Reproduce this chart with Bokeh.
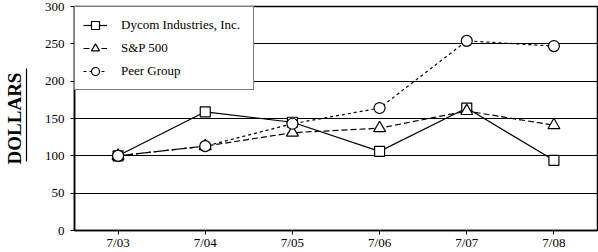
from bokeh.plotting import figure
from bokeh.models import Range1d, FactorRange, FixedTicker, Legend, LegendItem, LinearAxis
from bokeh.embed import file_html
from bokeh.resources import INLINE

categories = ["7/03", "7/04", "7/05", "7/06", "7/07", "7/08"]
dycom = [100, 159, 145, 106, 164, 94]
sp500 = [100, 113, 131, 137, 160, 141]
peer = [100, 113, 143, 164, 254, 247]
y_ticks = [0, 50, 100, 150, 200, 250, 300]
series_names = ["Dycom Industries, Inc.", "S&P 500", "Peer Group"]
y_title = "DOLLARS"

FONT = "Liberation Serif"

p = figure(width=598, height=252, x_range=FactorRange(*categories), y_range=Range1d(0, 300),
           output_backend="svg", toolbar_location=None,
           min_border_left=0, min_border_right=1, min_border_top=6, min_border_bottom=20)
p.outline_line_color = "black"
p.outline_line_width = 1.5
p.xgrid.visible = False
p.ygrid.ticker = FixedTicker(ticks=y_ticks)
p.ygrid.grid_line_color = "black"
p.ygrid.grid_line_width = 1.2

xax = p.xaxis[0]
yax = p.yaxis[0]
yax.ticker = FixedTicker(ticks=y_ticks)
for ax in (xax, yax):
    ax.major_label_text_font = FONT
    ax.major_label_text_font_size = "13px"
    ax.major_label_text_color = "black"
    ax.axis_line_color = "black"
    ax.axis_line_width = 1.5
    ax.major_tick_line_color = "black"
    ax.major_tick_in = 0
    ax.major_tick_out = 4
    ax.minor_tick_line_color = None
xax.major_label_standoff = 0
yax.major_label_standoff = 6

# spacer axis between tick labels and the title
spacer = LinearAxis(ticker=FixedTicker(ticks=[]), axis_line_color=None,
                    major_tick_line_color=None, minor_tick_line_color=None,
                    major_tick_in=0, major_tick_out=0, major_label_text_font_size="0px",
                    axis_label="\u00a0", axis_label_text_font_size="11px",
                    axis_label_standoff=0)
p.add_layout(spacer, "left")

# title axis: its line, limited by bounds, underlines the title
title_ax = LinearAxis(ticker=FixedTicker(ticks=[]), bounds=(93, 217),
                      axis_line_color="black", axis_line_width=1.2,
                      major_tick_line_color=None, minor_tick_line_color=None,
                      major_tick_in=0, major_tick_out=0, major_label_text_font_size="0px",
                      axis_label=y_title, axis_label_text_font=FONT,
                      axis_label_text_font_style="bold", axis_label_text_font_size="19px",
                      axis_label_text_color="black", axis_label_standoff=2)
p.add_layout(title_ax, "left")

r1l = p.line(categories, dycom, line_color="black", line_width=1.2)
r1m = p.scatter(categories, dycom, marker="square", size=10, fill_color="white",
                line_color="black", line_width=1.2)
r2l = p.line(categories, sp500, line_color="black", line_width=1.2, line_dash="6 3")
r2m = p.scatter(categories, sp500, marker="triangle", size=12, fill_color="white",
                line_color="black", line_width=1.2)
r3l = p.line(categories, peer, line_color="black", line_width=1.2, line_dash="3 3")
r3m = p.scatter(categories, peer, marker="circle", size=11, fill_color="white",
                line_color="black", line_width=1.2)

legend = Legend(items=[
    LegendItem(label=series_names[0], renderers=[r1l, r1m]),
    LegendItem(label=series_names[1], renderers=[r2l, r2m]),
    LegendItem(label=series_names[2], renderers=[r3l, r3m]),
], location="top_left")
legend.margin = 0
legend.padding = 8
legend.spacing = 3
legend.glyph_width = 24
legend.glyph_height = 20
legend.label_height = 20
legend.label_width = 124
legend.label_standoff = 14
legend.label_text_font = FONT
legend.label_text_font_size = "13px"
legend.label_text_color = "black"
legend.border_line_color = "black"
legend.border_line_width = 1.5
legend.background_fill_color = "white"
legend.background_fill_alpha = 1.0
p.add_layout(legend, "center")

open("out.html", "w").write(file_html(p, INLINE))
